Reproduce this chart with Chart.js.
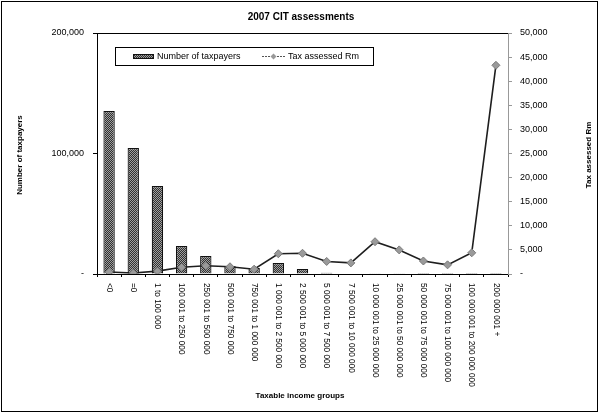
<!DOCTYPE html>
<html>
<head>
<meta charset="utf-8">
<style>
  html, body { margin: 0; padding: 0; background: #fff; }
  #wrap { width: 600px; height: 414px; position: relative; }
</style>
<script src="https://cdn.jsdelivr.net/npm/chart.js@4.4.1/dist/chart.umd.min.js"></script>
</head>
<body>
<div id="wrap"><canvas id="c" width="600" height="414"></canvas></div>
<script>
// Taxable income groups (Rand)
const categories = [
  '<0', '=0', '1 to 100 000', '100 001 to 250 000', '250 001 to 500 000',
  '500 001 to 750 000', '750 001 to 1 000 000', '1 000 001 to 2 500 000',
  '2 500 001 to 5 000 000', '5 000 001 to 7 500 000', '7 500 001 to 10 000 000',
  '10 000 001 to 25 000 000', '25 000 001 to 50 000 000', '50 000 001 to 75 000 000',
  '75 000 001 to 100 000 000', '100 000 001 to 200 000 000', '200 000 001 +'
];
// Number of companies assessed in each group
const taxpayers = [135300, 104600, 73000, 23200, 15000, 6600, 5000, 9100, 4100,
                   1000, 500, 700, 200, 100, 100, 100, 100];
// Tax assessed, R million
const taxAssessed = [400, 200, 600, 1400, 1700, 1500, 1000, 4200, 4300,
                     2600, 2300, 6700, 5000, 2700, 1900, 4400, 43300];

const leftTicks = [0, 100000, 200000];
const rightTicks = [0, 5000, 10000, 15000, 20000, 25000, 30000, 35000, 40000, 45000, 50000];

const FONT = '"Liberation Sans", Arial, sans-serif';

function fmt(v) {
  return v === 0 ? '-' : v.toLocaleString('en-US');
}

// stippled fill for the bars
function makePattern() {
  const p = document.createElement('canvas');
  p.width = 4; p.height = 4;
  const g = p.getContext('2d');
  g.fillStyle = '#303030';
  g.fillRect(0, 0, 4, 4);
  g.fillStyle = '#a0a0a0';
  [[0,0],[2,0],[1,1],[3,1],[0,2],[2,2],[1,3],[3,3]].forEach(([x, y]) => g.fillRect(x, y, 1, 1));
  return g.createPattern(p, 'repeat');
}

const ctx = document.getElementById('c').getContext('2d');
const barFill = makePattern();

const decor = {
  id: 'decor',
  beforeDraw(chart) {
    const c = chart.ctx;
    c.save();
    c.fillStyle = '#fff';
    c.fillRect(0, 0, chart.width, chart.height);
    c.restore();
  },
  afterDraw(chart) {
    const c = chart.ctx;
    const a = chart.chartArea;
    c.save();
    // outer frame
    c.strokeStyle = '#000';
    c.lineWidth = 1;
    c.strokeRect(1.5, 1.5, 596, 410);
    // top edge of plot area
    c.beginPath();
    c.moveTo(a.left, a.top + 0.5);
    c.lineTo(a.right, a.top + 0.5);
    c.stroke();

    // title
    c.fillStyle = '#000';
    c.font = 'bold 10px ' + FONT;
    c.textAlign = 'center';
    c.textBaseline = 'middle';
    c.fillText('2007 CIT assessments', 301, 17);

    // axis titles
    c.font = 'bold 8px ' + FONT;
    c.fillText('Taxable income groups', 300, 396);
    c.save();
    c.translate(20, 155);
    c.rotate(-Math.PI / 2);
    c.fillText('Number of taxpayers', 0, 0);
    c.restore();
    c.save();
    c.translate(589, 155);
    c.rotate(-Math.PI / 2);
    c.fillText('Tax assessed Rm', 0, 0);
    c.restore();

    // category labels, reading downwards
    const xs = chart.scales.x;
    c.font = '8.3px ' + FONT;
    c.textAlign = 'left';
    c.textBaseline = 'middle';
    categories.forEach((lab, i) => {
      const x = xs.getPixelForValue(i);
      c.save();
      c.translate(x, a.bottom + 9);
      c.rotate(Math.PI / 2);
      c.fillText(lab, 0, 0);
      c.restore();
    });

    // legend
    c.strokeStyle = '#000';
    c.lineWidth = 1;
    c.strokeRect(115.5, 47.5, 258, 18);
    c.fillStyle = barFill;
    c.fillRect(133, 54, 21, 5);
    c.strokeStyle = '#111';
    c.strokeRect(133.5, 54.5, 20, 4);
    c.fillStyle = '#000';
    c.font = '9px ' + FONT;
    c.textAlign = 'left';
    c.fillText('Number of taxpayers', 157, 57);
    c.strokeStyle = '#555';
    c.lineWidth = 1;
    c.setLineDash([2, 1]);
    c.beginPath();
    c.moveTo(262, 56.5);
    c.lineTo(285, 56.5);
    c.stroke();
    c.setLineDash([]);
    c.fillStyle = '#999';
    c.beginPath();
    c.moveTo(273.5, 53.5); c.lineTo(276.5, 56.5); c.lineTo(273.5, 59.5); c.lineTo(270.5, 56.5);
    c.closePath();
    c.fill();
    c.fillStyle = '#000';
    c.fillText('Tax assessed Rm', 288, 57);
    c.restore();
  }
};

new Chart(ctx, {
  data: {
    labels: categories,
    datasets: [
      {
        type: 'line',
        label: 'Tax assessed Rm',
        data: taxAssessed,
        yAxisID: 'y1',
        order: 0,
        borderColor: '#1e1e1e',
        borderWidth: 1.6,
        pointStyle: 'rectRot',
        pointRadius: 4,
        pointBackgroundColor: '#9a9a9a',
        pointBorderColor: '#7a7a7a',
        pointBorderWidth: 1,
        tension: 0
      },
      {
        type: 'bar',
        label: 'Number of taxpayers',
        data: taxpayers,
        yAxisID: 'y',
        order: 1,
        backgroundColor: barFill,
        borderColor: '#111',
        borderWidth: 1.2,
        barPercentage: 0.47,
        categoryPercentage: 1
      }
    ]
  },
  options: {
    responsive: false,
    animation: false,
    devicePixelRatio: 1,
    layout: { padding: { top: 33, left: 0, right: 0, bottom: 0 } },
    plugins: {
      legend: { display: false },
      title: { display: false },
      tooltip: { enabled: false }
    },
    scales: {
      x: {
        type: 'category',
        offset: true,
        ticks: { display: false },
        grid: { display: true, drawOnChartArea: false, offset: true, tickLength: 3, color: '#000' },
        border: { display: true, color: '#000', width: 1 },
        afterFit(s) { s.height = 140; }
      },
      y: {
        position: 'left',
        min: 0,
        max: 200000,
        afterBuildTicks(s) { s.ticks = leftTicks.map(v => ({ value: v })); },
        ticks: {
          callback: v => fmt(v),
          color: '#000',
          padding: 9,
          font: { family: FONT, size: 9 }
        },
        grid: { drawOnChartArea: false, tickLength: 4, color: '#000' },
        border: { display: true, color: '#000', width: 1 },
        afterFit(s) { s.width = 97; }
      },
      y1: {
        position: 'right',
        min: 0,
        max: 50000,
        afterBuildTicks(s) { s.ticks = rightTicks.map(v => ({ value: v })); },
        ticks: {
          callback: v => fmt(v),
          color: '#000',
          padding: 8,
          font: { family: FONT, size: 9 }
        },
        grid: { drawOnChartArea: false, tickLength: 4, color: '#999' },
        border: { display: true, color: '#999', width: 1, dash: [1, 2] },
        afterFit(s) { s.width = 92; }
      }
    }
  },
  plugins: [decor]
});
</script>
</body>
</html>
